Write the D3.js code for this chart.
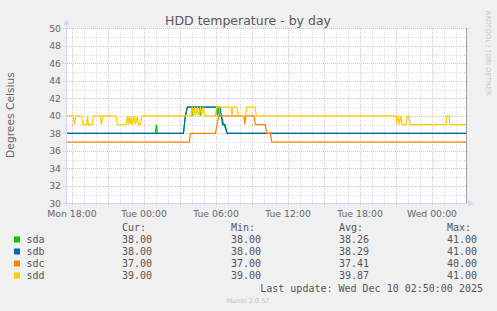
<!DOCTYPE html>
<html>
<head>
<meta charset="utf-8">
<script src="https://cdn.jsdelivr.net/npm/d3@7"></script>
<style>
  body { margin: 0; background: #f0f0f0; }
  svg { display: block; }
  text { fill: #666666; font-family: "DejaVu Sans", sans-serif; }
  .mono { font-family: "DejaVu Sans Mono", monospace; font-size: 10px; fill: #555555; }
</style>
</head>
<body>
<svg id="chart" width="497" height="311"></svg>
<script>
// series, [time, degrees]
let sda = [
  ["12-08 17:35", 38], ["12-09 00:57", 38], ["12-09 01:02", 39], ["12-09 01:07", 38],
  ["12-09 03:17", 38], ["12-09 03:27", 40], ["12-09 03:37", 41], ["12-09 03:57", 41],
  ["12-09 04:02", 40], ["12-09 04:07", 41], ["12-09 04:37", 41], ["12-09 04:42", 40],
  ["12-09 04:47", 41], ["12-09 06:02", 41], ["12-09 06:07", 40], ["12-09 06:12", 41],
  ["12-09 06:17", 40], ["12-09 06:27", 40], ["12-09 06:40", 39], ["12-09 06:57", 38],
  ["12-10 02:55", 38]
];
let sdb = [
  ["12-08 17:35", 38], ["12-09 03:17", 38], ["12-09 03:27", 40], ["12-09 03:37", 41],
  ["12-09 06:20", 41], ["12-09 06:27", 40], ["12-09 06:32", 39], ["12-09 06:45", 39],
  ["12-09 06:55", 38], ["12-10 02:55", 38]
];
let sdc = [
  ["12-08 17:35", 37], ["12-09 03:47", 37], ["12-09 03:52", 38], ["12-09 05:57", 38],
  ["12-09 06:05", 39], ["12-09 06:15", 40], ["12-09 08:20", 40], ["12-09 08:24", 39],
  ["12-09 08:29", 40], ["12-09 09:10", 40], ["12-09 09:17", 39], ["12-09 10:07", 39],
  ["12-09 10:14", 38], ["12-09 10:32", 38], ["12-09 10:39", 37], ["12-10 02:55", 37]
];
let sdd = [
  ["12-08 17:35", 40], ["12-08 18:05", 40], ["12-08 18:12", 39], ["12-08 18:19", 40],
  ["12-08 18:47", 40], ["12-08 18:55", 39], ["12-08 19:13", 39], ["12-08 19:18", 40],
  ["12-08 19:22", 39], ["12-08 19:42", 39], ["12-08 19:47", 40], ["12-08 20:20", 40],
  ["12-08 20:27", 39], ["12-08 20:34", 40], ["12-08 21:40", 40], ["12-08 21:47", 39],
  ["12-08 22:32", 39], ["12-08 22:37", 40], ["12-08 22:42", 39], ["12-08 22:47", 40],
  ["12-08 22:52", 39], ["12-08 22:57", 40], ["12-08 23:02", 39], ["12-08 23:12", 40],
  ["12-08 23:17", 39], ["12-08 23:27", 40], ["12-08 23:32", 39], ["12-08 23:42", 39],
  ["12-08 23:50", 40], ["12-09 03:55", 40], ["12-09 04:00", 41], ["12-09 04:07", 40],
  ["12-09 04:12", 41], ["12-09 04:17", 40], ["12-09 04:27", 41], ["12-09 04:32", 40],
  ["12-09 04:42", 41], ["12-09 04:47", 40], ["12-09 04:57", 41], ["12-09 05:05", 40],
  ["12-09 05:57", 40], ["12-09 06:02", 41], ["12-09 07:15", 41], ["12-09 07:20", 40],
  ["12-09 07:25", 41], ["12-09 07:45", 41], ["12-09 07:52", 40], ["12-09 08:27", 40],
  ["12-09 08:35", 41], ["12-09 09:15", 41], ["12-09 09:22", 40], ["12-09 21:00", 40],
  ["12-09 21:05", 39], ["12-09 21:10", 40], ["12-09 21:17", 39], ["12-09 21:24", 40],
  ["12-09 21:31", 39], ["12-09 21:50", 39], ["12-09 21:56", 40], ["12-09 22:04", 40],
  ["12-09 22:11", 39], ["12-10 01:10", 39], ["12-10 01:15", 40], ["12-10 01:25", 40],
  ["12-10 01:30", 39], ["12-10 02:55", 39]
];

let seriesNames = ["sda", "sdb", "sdc", "sdd"];
let seriesColors = ["#00cc00", "#0066b3", "#ff8000", "#ffcc00"];
let curValues = ["38.00", "38.00", "37.00", "39.00"];
let minValues = ["38.00", "38.00", "37.00", "39.00"];
let avgValues = ["38.26", "38.29", "37.41", "39.87"];
let maxValues = ["41.00", "41.00", "40.00", "41.00"];
let yTicks = [30, 32, 34, 36, 38, 40, 42, 44, 46, 48, 50];

const parse = d3.timeParse("%Y-%m-%d %H:%M");
const svg = d3.select("#chart");

const x = d3.scaleTime()
    .domain([parse("2025-12-08 17:35"), parse("2025-12-10 02:55")])
    .range([67, 467]);
const y = d3.scaleLinear().domain([30, 50]).range([203.3, 28.3]);

function drawGrid() {
    let g = svg.append("g");
    g.append("rect").attr("x", 67).attr("y", 28).attr("width", 400).attr("height", 175)
        .attr("fill", "#ffffff");

    // minor grid, every hour / every degree
    let hours = x.ticks(d3.timeHour.every(1));
    g.selectAll(".vmin").data(hours.filter(d => d.getHours() % 3 != 0)).enter()
        .append("line")
        .attr("x1", d => Math.round(x(d)) + 0.5).attr("x2", d => Math.round(x(d)) + 0.5)
        .attr("y1", 28).attr("y2", 206)
        .attr("stroke", "#dcdcdc").attr("stroke-dasharray", "1,1");
    g.selectAll(".hmin").data(d3.range(31, 50, 2)).enter()
        .append("line")
        .attr("x1", 64).attr("x2", 467)
        .attr("y1", d => Math.round(y(d)) + 0.5).attr("y2", d => Math.round(y(d)) + 0.5)
        .attr("stroke", "#dcdcdc").attr("stroke-dasharray", "1,1");

    // major grid
    g.selectAll(".vmaj").data(hours.filter(d => d.getHours() % 3 == 0)).enter()
        .append("line")
        .attr("x1", d => Math.round(x(d)) + 0.5).attr("x2", d => Math.round(x(d)) + 0.5)
        .attr("y1", 28).attr("y2", 207)
        .attr("stroke", "#e6bcbc").attr("stroke-dasharray", "1,1");
    g.selectAll(".hmaj").data(yTicks).enter()
        .append("line")
        .attr("x1", 63).attr("x2", 467)
        .attr("y1", d => Math.round(y(d)) + 0.5).attr("y2", d => Math.round(y(d)) + 0.5)
        .attr("stroke", "#e6bcbc").attr("stroke-dasharray", "1,1");
}

function drawLines() {
    let line = d3.line()
        .x(d => x(parse("2025-" + d[0])))
        .y(d => y(d[1]));
    [sda, sdb, sdc, sdd].forEach(function (s, i) {
        svg.append("path")
            .attr("d", line(s))
            .attr("fill", "none")
            .attr("stroke", seriesColors[i])
            .attr("stroke-width", 1.2);
    });
}

function drawAxes() {
    // right border of the canvas
    svg.append("line").attr("x1", 466.5).attr("x2", 466.5).attr("y1", 28).attr("y2", 203)
        .attr("stroke", "#a0a0a0");
    // axis lines with arrows
    svg.append("line").attr("x1", 66.5).attr("x2", 66.5).attr("y1", 206).attr("y2", 24)
        .attr("stroke", "#cfd6f8");
    svg.append("path").attr("d", "M63.5,25 L66.5,19 L69.5,25 Z").attr("fill", "#cfd6f8");
    svg.append("line").attr("x1", 64).attr("x2", 469).attr("y1", 203.5).attr("y2", 203.5)
        .attr("stroke", "#cfd6f8");
    svg.append("path").attr("d", "M468,200.5 L474,203.5 L468,206.5 Z").attr("fill", "#cfd6f8");

    svg.selectAll(".ylab").data(yTicks).enter()
        .append("text")
        .attr("x", 61).attr("y", d => y(d) + 3.4)
        .attr("text-anchor", "end")
        .style("font-size", "9.3px")
        .text(d => d);

    let fmt = d3.timeFormat("%a %H:%M");
    svg.selectAll(".xlab").data(x.ticks(d3.timeHour.every(6))).enter()
        .append("text")
        .attr("x", d => x(d)).attr("y", 216.5)
        .attr("text-anchor", "middle")
        .style("font-size", "9.3px")
        .text(d => fmt(d));
}

function drawText() {
    svg.append("text").attr("x", 248).attr("y", 24.5).attr("text-anchor", "middle")
        .style("font-size", "12.5px").style("fill", "#5a5a5a").text("HDD temperature - by day");
    svg.append("text").attr("transform", "translate(14,115) rotate(-90)")
        .attr("text-anchor", "middle").style("font-size", "10.7px").text("Degrees Celsius");
    svg.append("text").attr("transform", "translate(485.5,53) rotate(90)")
        .attr("text-anchor", "middle").style("font-size", "6.6px").style("fill", "#c4c4c4")
        .text("RRDTOOL / TOBI OETIKER");

    // legend
    let cols = [122, 231, 339, 447];
    let heads = ["Cur:", "Min:", "Avg:", "Max:"];
    heads.forEach(function (h, j) {
        svg.append("text").attr("class", "mono").attr("x", cols[j]).attr("y", 231).text(h);
    });
    seriesNames.forEach(function (name, i) {
        let yy = 239.5 + i * 12;
        svg.append("rect").attr("x", 14).attr("y", yy - 3).attr("width", 6).attr("height", 6)
            .attr("fill", seriesColors[i]);
        svg.append("text").attr("class", "mono").attr("x", 26.5).attr("y", yy + 3.5).text(name);
        [curValues, minValues, avgValues, maxValues].forEach(function (arr, j) {
            svg.append("text").attr("class", "mono").attr("x", cols[j]).attr("y", yy + 3.5)
                .text(arr[i]);
        });
    });
    svg.append("text").attr("class", "mono").attr("x", 483).attr("y", 291.5)
        .attr("text-anchor", "end").text("Last update: Wed Dec 10 02:50:00 2025");
    svg.append("text").attr("x", 248).attr("y", 302.5).attr("text-anchor", "middle")
        .style("font-size", "6.6px").style("fill", "#c4c4c4").text("Munin 2.0.57");
}

drawGrid();
drawLines();
drawAxes();
drawText();
</script>
</body>
</html>
